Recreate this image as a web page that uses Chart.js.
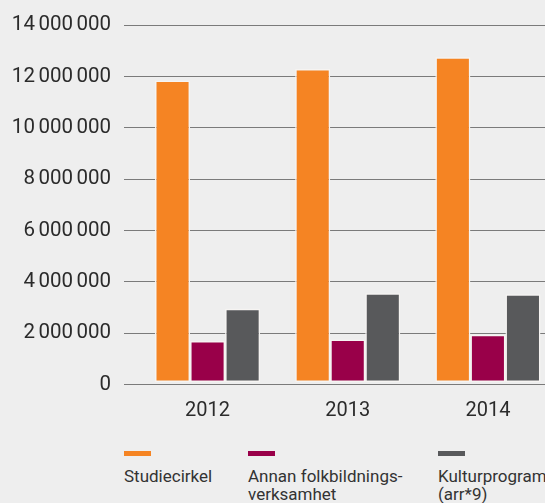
<!DOCTYPE html>
<html>
<head>
<meta charset="utf-8">
<script src="https://cdn.jsdelivr.net/npm/chart.js@4.4.0/dist/chart.umd.min.js"></script>
<style>
  html, body { margin: 0; padding: 0; background: #eeeeee; overflow: hidden; }
  #wrap { position: relative; width: 545px; height: 503px; overflow: hidden; }
  #chart { position: absolute; left: 0; top: 0; }
  .legend-item { position: absolute; top: 451px; font-family: Roboto, sans-serif; font-size: 17px;
    line-height: 18px; color: #333; white-space: pre; }
  .legend-item .swatch { width: 27px; height: 5px; margin-bottom: 11px; }
</style>
</head>
<body>
<div id="wrap">
  <canvas id="chart" width="558" height="430"></canvas>
  <div id="legend"></div>
</div>
<script>
"use strict";

// categories and series
var years = ['2012', '2013', '2014'];
var studiecirkel = [11850000, 12300000, 12750000];
var annanVerksamhet = [1700000, 1750000, 1940000];
var kulturprogram = [2950000, 3560000, 3520000];
var seriesNames = ['Studiecirkel', 'Annan folkbildnings-\nverksamhet', 'Kulturprogram\n(arr*9)'];
var seriesColors = ['#F58423', '#990049', '#58595B'];
var legendLeft = [124, 248, 438];

function spaced(value) {
    return value.toString().replace(/\B(?=(\d{3})+(?!\d))/g, '\u2006');
}

var seriesValues = [studiecirkel, annanVerksamhet, kulturprogram];
var datasets = seriesValues.map(function(values, i) {
    return {
        label: seriesNames[i],
        data: values,
        backgroundColor: seriesColors[i],
        borderColor: '#f6f4f2',
        borderWidth: 1.5,
        borderSkipped: false,
        base: 100000,
        barPercentage: 1.0,
        categoryPercentage: 0.75
    };
});

new Chart(document.getElementById('chart'), {
    type: 'bar',
    data: { labels: years, datasets: datasets },
    options: {
        responsive: false,
        animation: false,
        layout: { padding: { top: 23, right: 0, bottom: 0, left: 0 } },
        plugins: { legend: { display: false }, tooltip: { enabled: false } },
        scales: {
            x: {
                grid: { display: false },
                border: { display: false },
                ticks: {
                    color: '#2b2b2b',
                    padding: 6,
                    font: { family: 'Roboto', size: 20 }
                },
                afterFit: function(scale) { scale.height = 430 - 384.5; }
            },
            y: {
                min: 0,
                max: 14000000,
                border: { display: false },
                grid: { color: '#7a7a7a', lineWidth: 1, drawTicks: true, tickLength: 13.5 },
                ticks: {
                    stepSize: 2000000,
                    color: '#2b2b2b',
                    padding: 13,
                    font: { family: 'Roboto', size: 20.5 },
                    callback: function(value) { return spaced(value); }
                },
                afterFit: function(scale) { scale.width = 137.5; }
            }
        }
    }
});

// legend below the chart
var legend = document.getElementById('legend');
seriesNames.forEach(function(name, i) {
    var item = document.createElement('div');
    item.className = 'legend-item';
    item.style.left = legendLeft[i] + 'px';
    var swatch = document.createElement('div');
    swatch.className = 'swatch';
    swatch.style.background = seriesColors[i];
    item.appendChild(swatch);
    item.appendChild(document.createTextNode(name));
    legend.appendChild(item);
});
</script>
</body>
</html>
